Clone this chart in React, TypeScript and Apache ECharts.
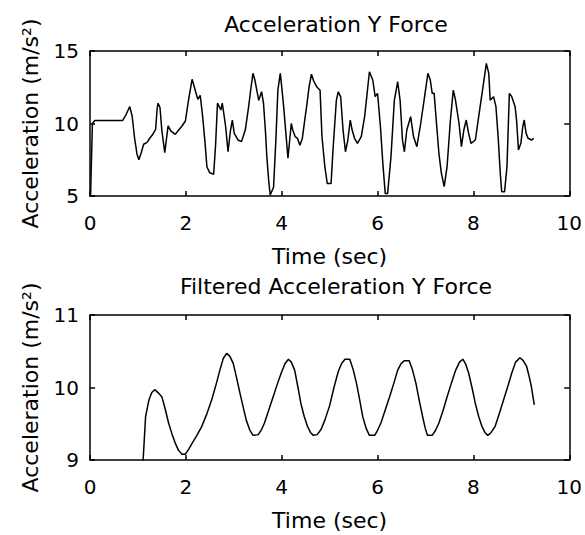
import React, { useEffect, useRef } from "react";
import * as echarts from "echarts";

// Raw acceleration (top panel): time in seconds, value in m/s^2
const rawTimes = [
  0, 0.05, 0.1, 0.68, 0.75, 0.83, 0.88, 0.93, 0.98, 1.02, 1.07, 1.12, 1.19, 1.25, 1.3, 1.37, 1.4, 1.42, 1.46, 1.5,
  1.56, 1.59, 1.63, 1.69, 1.78, 1.85, 1.92, 1.99, 2.05, 2.13, 2.17, 2.22, 2.25, 2.3, 2.35, 2.4, 2.44, 2.5, 2.58, 2.62,
  2.66, 2.73, 2.76, 2.8, 2.83, 2.88, 2.93, 2.97, 3.01, 3.09, 3.16, 3.24, 3.31, 3.36, 3.4, 3.44, 3.48, 3.52, 3.58, 3.62,
  3.66, 3.69, 3.73, 3.76, 3.83, 3.88, 3.92, 3.97, 4.0, 4.04, 4.07, 4.13, 4.2, 4.23, 4.28, 4.33, 4.38, 4.43, 4.49, 4.52,
  4.57, 4.62, 4.67, 4.73, 4.8, 4.84, 4.9, 4.95, 5.03, 5.07, 5.14, 5.18, 5.23, 5.28, 5.33, 5.38, 5.43, 5.47, 5.52, 5.58,
  5.66, 5.73, 5.78, 5.83, 5.9, 5.95, 6.0, 6.06, 6.11, 6.16, 6.21, 6.28, 6.35, 6.42, 6.47, 6.52, 6.56, 6.61, 6.69, 6.75,
  6.82, 6.9, 6.97, 7.05, 7.1, 7.14, 7.18, 7.23, 7.28, 7.33, 7.39, 7.45, 7.52, 7.58, 7.62, 7.7, 7.75, 7.8, 7.85, 7.9,
  7.95, 8.04, 8.11, 8.18, 8.27, 8.32, 8.35, 8.42, 8.47, 8.52, 8.56, 8.59, 8.65, 8.7, 8.75, 8.8, 8.87, 8.9, 8.94, 8.99,
  9.03, 9.06, 9.1, 9.14, 9.21, 9.26,
];
const rawAccel = [
  3.5, 10.0, 10.2, 10.2, 10.6, 11.16, 10.5, 9.0, 7.9, 7.5, 8.0, 8.57, 8.7, 9.0, 9.2, 9.6, 11.0, 11.4, 11.1, 9.5,
  7.99, 8.8, 9.83, 9.48, 9.25, 9.55, 9.83, 10.17, 11.5, 13.05, 12.6, 12.0, 11.67, 11.94, 10.5, 8.68, 7.0, 6.6, 6.5, 8.5,
  11.4, 10.93, 11.4, 10.5, 9.78, 8.05, 9.5, 10.24, 9.32, 8.86, 8.75, 9.55, 11.16, 12.5, 13.46, 13.0, 12.3, 11.6, 12.19, 11.4,
  9.5, 7.71, 6.0, 5.07, 5.6, 9.0, 12.3, 13.46, 12.54, 11.2, 10.0, 7.6, 10.0, 9.55, 9.1, 8.97, 8.5, 8.97, 10.47, 11.16,
  12.5, 13.4, 12.9, 12.54, 12.3, 9.1, 7.02, 5.87, 5.87, 8.17, 11.6, 12.19, 11.84, 9.55, 8.05, 8.86, 10.24, 9.55, 8.98, 8.63,
  9.1, 10.47, 12.0, 13.57, 13.0, 11.85, 12.08, 9.78, 7.25, 5.18, 5.18, 7.71, 11.6, 12.88, 11.6, 8.86, 8.05, 9.55, 10.47, 9.1,
  8.4, 10.0, 11.6, 13.46, 13.0, 12.08, 12.08, 10.0, 7.94, 6.6, 5.64, 7.02, 10.24, 12.3, 11.73, 10.0, 8.4, 9.55, 10.24, 9.32,
  8.63, 8.86, 10.47, 12.08, 14.15, 13.46, 11.6, 11.85, 11.16, 8.86, 6.57, 5.3, 5.3, 7.02, 12.08, 11.85, 11.16, 10.24, 8.17, 8.63,
  9.78, 10.24, 9.32, 8.98, 8.86, 8.98,
];

// Filtered acceleration (bottom panel)
const filteredTimes = [
  1.1, 1.16, 1.23, 1.29, 1.35, 1.42, 1.5, 1.57, 1.64, 1.71, 1.78, 1.85, 1.92, 1.99, 2.06, 2.13, 2.23, 2.33, 2.44, 2.54,
  2.63, 2.71, 2.78, 2.85, 2.92, 2.99, 3.06, 3.13, 3.2, 3.26, 3.33, 3.4, 3.51, 3.58, 3.64, 3.73, 3.82, 3.91, 3.99, 4.07,
  4.14, 4.2, 4.27, 4.34, 4.4, 4.47, 4.54, 4.6, 4.66, 4.74, 4.82, 4.9, 5.0, 5.09, 5.18, 5.25, 5.32, 5.42, 5.49, 5.56,
  5.63, 5.69, 5.76, 5.83, 5.94, 6.0, 6.07, 6.16, 6.25, 6.34, 6.42, 6.49, 6.56, 6.66, 6.73, 6.8, 6.87, 6.94, 6.99, 7.04,
  7.14, 7.21, 7.28, 7.37, 7.45, 7.54, 7.63, 7.71, 7.78, 7.84, 7.9, 7.97, 8.04, 8.11, 8.18, 8.24, 8.3, 8.37, 8.45, 8.54,
  8.63, 8.72, 8.8, 8.88, 8.97, 9.04, 9.11, 9.16, 9.21, 9.27,
];
const filteredAccel = [
  8.9, 9.6, 9.83, 9.93, 9.97, 9.93, 9.87, 9.7, 9.51, 9.36, 9.23, 9.13, 9.08, 9.08, 9.15, 9.23, 9.34, 9.46, 9.64, 9.83,
  10.04, 10.24, 10.4, 10.47, 10.43, 10.33, 10.13, 9.92, 9.72, 9.55, 9.42, 9.34, 9.35, 9.42, 9.51, 9.69, 9.87, 10.05, 10.2, 10.33,
  10.39, 10.35, 10.24, 10.0, 9.78, 9.6, 9.46, 9.38, 9.34, 9.35, 9.42, 9.55, 9.75, 10.0, 10.22, 10.33, 10.39, 10.39, 10.25, 10.06,
  9.82, 9.6, 9.44, 9.34, 9.34, 9.41, 9.51, 9.69, 9.87, 10.06, 10.24, 10.33, 10.37, 10.37, 10.24, 10.06, 9.82, 9.6, 9.45, 9.34,
  9.34, 9.41, 9.51, 9.69, 9.87, 10.06, 10.24, 10.35, 10.39, 10.32, 10.2, 10.0, 9.78, 9.6, 9.46, 9.38, 9.34, 9.38, 9.46, 9.64,
  9.83, 10.02, 10.2, 10.35, 10.41, 10.37, 10.29, 10.16, 10.01, 9.76,
];

const xTicks = { min: 0, max: 10, interval: 2 };
const topY = { min: 5, max: 15, interval: 5 };
const bottomY = { min: 9, max: 11, interval: 1 };

const titles = ["Acceleration Y Force", "Filtered Acceleration Y Force"];
const xName = "Time (sec)";
const yName = "Acceleration (m/s²)";

const FONT = "DejaVu Sans";

export default function App() {
  const ref = useRef<HTMLDivElement>(null);

  useEffect(() => {
    if (!ref.current) return;
    const chart = echarts.init(ref.current, null, { renderer: "svg" });

    const lineStyle = { color: "#000", width: 1.5 };
    const mkX = (gridIndex: number, position: "top" | "bottom") => ({
      type: "value",
      gridIndex,
      position,
      min: xTicks.min,
      max: xTicks.max,
      interval: xTicks.interval,
      name: position === "bottom" ? xName : "",
      nameLocation: "middle",
      nameGap: 49,
      nameTextStyle: { fontFamily: FONT, fontSize: 22, color: "#000" },
      axisLine: { show: true, onZero: false, lineStyle },
      axisTick: { show: true, inside: true, length: 5, lineStyle },
      axisLabel: {
        show: position === "bottom",
        fontFamily: FONT,
        fontSize: 20,
        color: "#000",
        margin: 17,
      },
      splitLine: { show: false },
    });
    const mkY = (gridIndex: number, position: "left" | "right", r: { min: number; max: number; interval: number }) => ({
      type: "value",
      gridIndex,
      position,
      min: r.min,
      max: r.max,
      interval: r.interval,
      name: position === "left" ? yName : "",
      nameLocation: "middle",
      nameGap: 49,
      nameTextStyle: { fontFamily: FONT, fontSize: 22, color: "#000" },
      axisLine: { show: true, onZero: false, lineStyle },
      axisTick: { show: true, inside: true, length: 5, lineStyle },
      axisLabel: {
        show: position === "left",
        fontFamily: FONT,
        fontSize: 20,
        color: "#000",
        margin: 11,
        padding: [8, 0, 0, 0],
      },
      splitLine: { show: false },
    });

    chart.setOption({
      animation: false,
      backgroundColor: "#fff",
      title: [
        {
          text: titles[0],
          left: 331,
          top: 8,
          textAlign: "center",
          textStyle: { fontFamily: FONT, fontSize: 22, fontWeight: "normal", color: "#000" },
        },
        {
          text: titles[1],
          left: 331,
          top: 270,
          textAlign: "center",
          textStyle: { fontFamily: FONT, fontSize: 22, fontWeight: "normal", color: "#000" },
        },
      ],
      grid: [
        { left: 90, top: 51, width: 483, height: 145 },
        { left: 90, top: 315, width: 483, height: 145 },
      ],
      xAxis: [mkX(0, "bottom"), mkX(0, "top"), mkX(1, "bottom"), mkX(1, "top")],
      yAxis: [mkY(0, "left", topY), mkY(0, "right", topY), mkY(1, "left", bottomY), mkY(1, "right", bottomY)],
      series: [
        {
          type: "line",
          xAxisIndex: 0,
          yAxisIndex: 0,
          data: rawTimes.map((t, i) => [t, rawAccel[i]]),
          showSymbol: false,
          clip: true,
          lineStyle: { color: "#000", width: 1.5 },
        },
        {
          type: "line",
          xAxisIndex: 2,
          yAxisIndex: 2,
          data: filteredTimes.map((t, i) => [t, filteredAccel[i]]),
          showSymbol: false,
          clip: true,
          lineStyle: { color: "#000", width: 1.5 },
        },
      ],
    });

    return () => chart.dispose();
  }, []);

  return (
    <div
      ref={ref}
      style={{ position: "absolute", left: 0, top: 0, width: 585, height: 535, background: "#fff" }}
    />
  );
}
